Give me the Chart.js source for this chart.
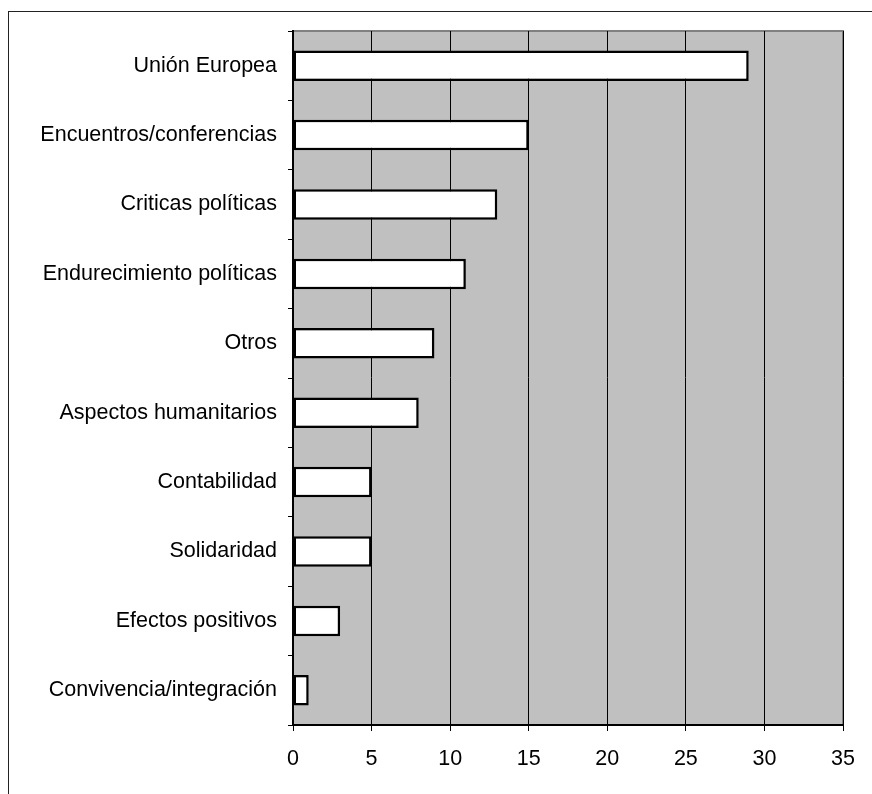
<!DOCTYPE html>
<html lang="es">
<head>
    <meta charset="UTF-8">
    <title>Temas</title>
    <script src="https://cdn.jsdelivr.net/npm/chart.js"></script>
    <style>
        body {
            margin: 0;
            background: #fff;
            overflow: hidden;
        }
        .frame {
            position: absolute;
            left: 8px;
            top: 11px;
            width: 1000px;
            height: 1000px;
            border: 1px solid #222;
        }
        .chart-container {
            position: absolute;
            left: 0;
            top: 0;
            width: 872px;
            height: 794px;
        }
    </style>
</head>
<body>
    <div class="frame"></div>
    <div class="chart-container">
        <canvas id="temasChart" width="872" height="794"></canvas>
    </div>

    <script>
        // categories, top to bottom
        const categorias = [
            'Unión Europea',
            'Encuentros/conferencias',
            'Criticas políticas',
            'Endurecimiento políticas',
            'Otros',
            'Aspectos humanitarios',
            'Contabilidad',
            'Solidaridad',
            'Efectos positivos',
            'Convivencia/integración'
        ];
        const valores = [29, 15, 13, 11, 9, 8, 5, 5, 3, 1];
        const ejeMin = 0;
        const ejeMax = 35;
        const ejePaso = 5;

        // grey plot background
        const plotBg = {
            id: 'plotBg',
            beforeDraw(chart) {
                const { ctx, chartArea: a } = chart;
                ctx.save();
                ctx.fillStyle = '#c0c0c0';
                ctx.fillRect(a.left, a.top, a.right - a.left, a.bottom - a.top);
                // grey border at top and right
                ctx.strokeStyle = '#808080';
                ctx.lineWidth = 2;
                ctx.beginPath();
                ctx.moveTo(a.left, a.top);
                ctx.lineTo(a.right, a.top);
                ctx.lineTo(a.right, a.bottom);
                ctx.stroke();
                ctx.restore();
            }
        };

        const ctx = document.getElementById('temasChart').getContext('2d');
        new Chart(ctx, {
            type: 'bar',
            data: {
                labels: categorias,
                datasets: [{
                    data: valores,
                    backgroundColor: '#ffffff',
                    borderColor: '#000000',
                    borderWidth: 2.5,
                    borderSkipped: false,
                    barPercentage: 0.44,
                    categoryPercentage: 1
                }]
            },
            plugins: [plotBg],
            options: {
                indexAxis: 'y',
                responsive: false,
                animation: false,
                layout: {
                    padding: { top: 31, right: 29, left: 0, bottom: 0 }
                },
                plugins: {
                    legend: { display: false },
                    tooltip: { enabled: false }
                },
                scales: {
                    x: {
                        min: ejeMin,
                        max: ejeMax,
                        afterFit: function(scale) { scale.height = 69; },
                        ticks: {
                            stepSize: ejePaso,
                            color: '#000',
                            padding: 15,
                            font: { family: 'Liberation Sans, Arial', size: 21.5 }
                        },
                        grid: {
                            color: '#000',
                            lineWidth: 1,
                            drawTicks: true,
                            tickLength: 6
                        },
                        border: { color: '#000', width: 2 }
                    },
                    y: {
                        afterFit: function(scale) { scale.width = 293; },
                        ticks: {
                            color: '#000',
                            padding: 11,
                            font: { family: 'Liberation Sans, Arial', size: 21.5 }
                        },
                        grid: {
                            offset: true,
                            drawOnChartArea: false,
                            drawTicks: true,
                            tickLength: 5,
                            color: '#000'
                        },
                        border: { color: '#000', width: 2 }
                    }
                }
            }
        });
    </script>
</body>
</html>
